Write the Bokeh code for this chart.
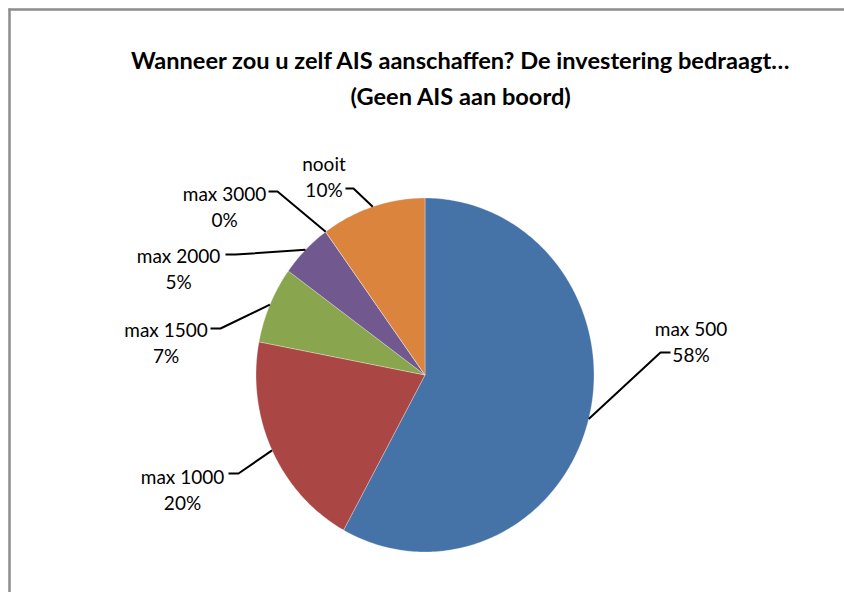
import numpy as np
from bokeh.plotting import figure
from bokeh.models import Range1d, ColumnDataSource
from bokeh.core.properties import value
from bokeh.embed import file_html
from bokeh.resources import INLINE

# ---- data ----
categories = ["max 500", "max 1000", "max 1500", "max 2000", "max 3000", "nooit"]
percent = [58, 20, 7, 5, 0, 10]
colors = ["#4572A7", "#AA4643", "#89A54E", "#71588F", "#7F7F7F", "#DB843D"]
title_lines = ["Wanneer zou u zelf AIS aanschaffen? De investering bedraagt\u2026",
               "(Geen AIS aan boord)"]

# ---- layout (page pixel coordinates) ----
W, H = 844, 592
cx, cy = 424.5, 374.5
rx, ry = 169, 177
# label centers (x) and baselines of first line
label_x = [690.5, 182, 165.5, 178, 224, 323.5]
label_y = [328, 476, 329, 255, 193, 163]
line_gap = 26
# leader anchor near label and direction of short horizontal piece
anchor_x = [670, 228, 210, 225, 268, 345]
anchor_y = [352, 473, 328, 254, 191, 188]
anchor_dx = [-10, 10, 10, 10, 9, 8]

p = figure(width=W, height=H, output_backend="svg", toolbar_location=None,
           x_range=Range1d(0, W), y_range=Range1d(H, 0),
           min_border=0, outline_line_color=None)
p.axis.visible = False
p.grid.visible = False
p.background_fill_color = "white"
p.border_fill_color = "white"

# pie slices (clockwise from top)
vals = np.array(percent, dtype=float)
frac = vals / vals.sum()
starts = np.concatenate([[0], np.cumsum(frac)[:-1]])
ends = np.cumsum(frac)
xs, ys = [], []
for s, e in zip(starts, ends):
    t = np.linspace(s, e, max(2, int((e - s) * 400) + 2)) * 2 * np.pi
    xs.append(np.concatenate([[cx], cx + rx * np.sin(t)]))
    ys.append(np.concatenate([[cy], cy - ry * np.cos(t)]))
p.patches(xs=xs, ys=ys, fill_color=colors, line_color="white",
          line_width=0.6, line_alpha=0.5)

# leader lines
mid = (starts + ends) / 2 * 2 * np.pi
ex = cx + rx * np.sin(mid)
ey = cy - ry * np.cos(mid)
lx, ly = [], []
for i in range(len(categories)):
    lx.append([anchor_x[i], anchor_x[i] + anchor_dx[i], ex[i]])
    ly.append([anchor_y[i], anchor_y[i], ey[i]])
p.multi_line(xs=lx, ys=ly, line_color="black", line_width=2)

# labels
src = ColumnDataSource(dict(
    x=label_x, y1=label_y, y2=[y + line_gap for y in label_y],
    name=categories, pct=[f"{v}%" for v in percent]))
p.text(x="x", y="y1", text="name", source=src, text_align="center",
       text_baseline="alphabetic", text_font=value("Lato"),
       text_font_size="19px", text_color="black")
p.text(x="x", y="y2", text="pct", source=src, text_align="center",
       text_baseline="alphabetic", text_font=value("Lato"),
       text_font_size="19px", text_color="black")

# title
p.text(x=[460.5, 460.5], y=[59, 95], text=title_lines, text_align="center",
       text_baseline="alphabetic", text_font=value("Lato"),
       text_font_style="bold", text_font_size="23.6px", text_color="black")

# chart area border (top and left visible)
p.line(x=[8, W], y=[9, 9], line_color="#8C8C8C", line_width=2.5)
p.line(x=[9, 9], y=[8, H], line_color="#8C8C8C", line_width=2.5)

open("out.html", "w").write(file_html(p, INLINE))
